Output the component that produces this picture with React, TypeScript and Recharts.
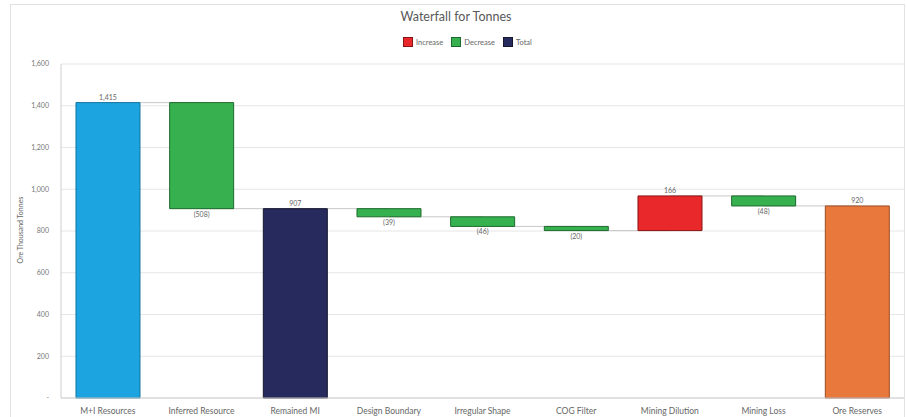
import {
  BarChart,
  Bar,
  XAxis,
  YAxis,
  CartesianGrid,
  Cell,
  LabelList,
  ReferenceLine,
} from "recharts";

const categories = [
  "M+I Resources",
  "Inferred Resource",
  "Remained MI",
  "Design Boundary",
  "Irregular Shape",
  "COG Filter",
  "Mining Dilution",
  "Mining Loss",
  "Ore Reserves",
];

// "total" bars start at zero, the others are changes from the running level
const kinds = [
  "total",
  "change",
  "total",
  "change",
  "change",
  "change",
  "change",
  "change",
  "total",
];

const values = [1415, -508, 907, -39, -46, -20, 166, -48, 920];

const yTicks = [0, 200, 400, 600, 800, 1000, 1200, 1400, 1600];

const totalColors = ["#1ba4e0", "#272a5c", "#e8783c"];
const totalStrokes = ["#13749f", "#15172f", "#9a4d22"];
const INCREASE = "#e8282a";
const DECREASE = "#37b14f";

interface Row {
  name: string;
  span: [number, number];
  level: number;
  fill: string;
  stroke: string;
  label: string;
  below: boolean;
}

function buildRows(): Row[] {
  let level = 0;
  let totalIdx = 0;
  return categories.map((name, i) => {
    const v = values[i];
    if (kinds[i] === "total") {
      level = v;
      const r: Row = {
        name,
        span: [0, v],
        level,
        fill: totalColors[totalIdx],
        stroke: totalStrokes[totalIdx],
        label: v.toLocaleString("en-US"),
        below: false,
      };
      totalIdx++;
      return r;
    }
    const start = level;
    level = start + v;
    return {
      name,
      span: [Math.min(start, level), Math.max(start, level)],
      level,
      fill: v < 0 ? DECREASE : INCREASE,
      stroke: v < 0 ? "#1d6b2c" : "#8a1414",
      label: v < 0 ? `(${Math.abs(v)})` : String(v),
      below: v < 0,
    };
  });
}

const rows = buildRows();
const FONT = "Lato, 'Open Sans', sans-serif";

function BarLabel(props: any) {
  const { x, y, width, height, index } = props;
  const r = rows[index];
  const top = Math.min(y, y + height);
  const bottom = Math.max(y, y + height);
  const ty = r.below ? bottom + 8 : top - 3;
  return (
    <text
      x={x + width / 2}
      y={ty}
      textAnchor="middle"
      fontSize={7}
      fill="#666"
      fontFamily={FONT}
    >
      {r.label}
    </text>
  );
}

function LegendItem({ color, border, label }: { color: string; border: string; label: string }) {
  return (
    <span style={{ display: "inline-flex", alignItems: "center", marginRight: 8 }}>
      <span
        style={{
          width: 8,
          height: 8,
          background: color,
          border: `1px solid ${border}`,
          marginRight: 3,
          display: "inline-block",
        }}
      />
      <span style={{ fontSize: 7.5, color: "#666" }}>{label}</span>
    </span>
  );
}

export default function App() {
  return (
    <div
      style={{
        position: "absolute",
        left: 0,
        top: 0,
        width: 906,
        height: 417,
        background: "#fff",
        fontFamily: FONT,
        overflow: "hidden",
      }}
    >
      {/* frame */}
      <div
        style={{
          position: "absolute",
          left: 10,
          top: 4,
          width: 893,
          height: 420,
          border: "1px solid #e2e2e2",
        }}
      />
      <div
        style={{
          position: "absolute",
          top: 9,
          left: 0,
          width: 912,
          textAlign: "center",
          fontSize: 12.5,
          color: "#595959",
        }}
      >
        Waterfall for Tonnes
      </div>
      <div
        style={{
          position: "absolute",
          top: 37,
          left: 403,
          display: "flex",
          alignItems: "center",
        }}
      >
        <LegendItem color={INCREASE} border="#8a1414" label="Increase" />
        <LegendItem color={DECREASE} border="#1d6b2c" label="Decrease" />
        <LegendItem color="#272a5c" border="#15172f" label="Total" />
      </div>
      <div
        style={{
          position: "absolute",
          left: 20,
          top: 230,
          transform: "translate(-50%, -50%) rotate(-90deg)",
          fontSize: 7,
          color: "#666",
          whiteSpace: "nowrap",
        }}
      >
        Ore Thousand Tonnes
      </div>
      <div style={{ position: "absolute", left: 0, top: 0 }}>
        <BarChart
          width={906}
          height={417}
          data={rows}
          margin={{ top: 64, right: 2, bottom: 0, left: 0 }}
          barCategoryGap="16%"
        >
          <CartesianGrid vertical={false} stroke="#e6e6e6" />
          <XAxis
            dataKey="name"
            tickLine={false}
            axisLine={{ stroke: "#cfcfcf" }}
            tick={{ fontSize: 8.5, fill: "#666", fontFamily: FONT }}
            interval={0}
            height={19}
            tickMargin={4}
          />
          <YAxis
            domain={[0, 1600]}
            ticks={yTicks}
            width={61}
            tickLine={false}
            axisLine={{ stroke: "#cfcfcf" }}
            tick={{ fontSize: 7, fill: "#777", fontFamily: FONT }}
            tickFormatter={(v: number) =>
              v === 0 ? "-" : v.toLocaleString("en-US")
            }
            tickMargin={6}
          />
          {rows.slice(0, -1).map((r, i) => (
            <ReferenceLine
              key={r.name}
              segment={[
                { x: r.name, y: r.level },
                { x: rows[i + 1].name, y: r.level },
              ]}
              stroke="#c8c8c8"
              strokeWidth={1}
              zIndex={-1}
            />
          ))}
          <Bar dataKey="span" isAnimationActive={false}>
            {rows.map((r) => (
              <Cell key={r.name} fill={r.fill} stroke={r.stroke} strokeWidth={1} />
            ))}
            <LabelList dataKey="span" content={BarLabel} />
          </Bar>
        </BarChart>
      </div>
    </div>
  );
}
